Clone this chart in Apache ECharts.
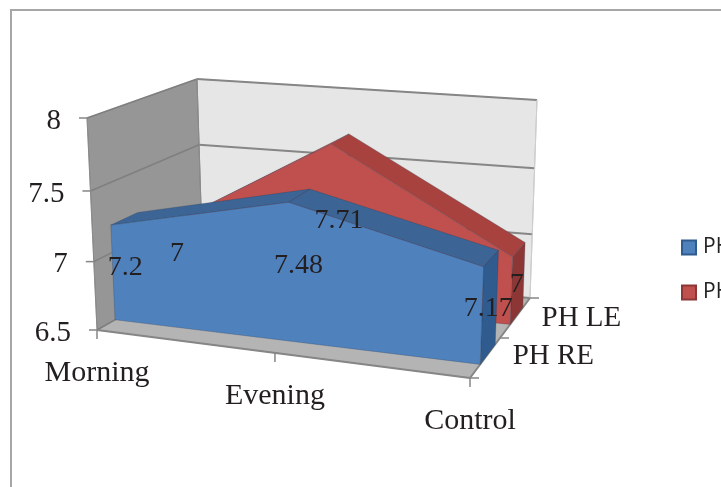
<!DOCTYPE html>
<html lang="en">
<head>
<meta charset="UTF-8">
<title>PH chart</title>
<style>
  html, body { margin: 0; padding: 0; background: #fff; overflow: hidden; }
  #chart { width: 721px; height: 487px; }
</style>
</head>
<body>
<div id="chart"></div>
<script src="https://cdn.jsdelivr.net/npm/echarts@6/dist/echarts.min.js"></script>
<script>
// data
var categories = ['Morning', 'Evening', 'Control'];
var seriesNames = ['PH RE', 'PH LE'];
var phRe = [7.2, 7.48, 7.17];
var phLe = [7, 7.71, 7];
var valueTicks = [6.5, 7, 7.5, 8];

var SERIF = '"Liberation Serif", serif';
var TEXT = '#231f20';

// box corners on screen: [front/back][left/right][bottom/top]
var box = {
    flb: [97, 330], flt: [87, 118],
    frb: [470, 378], frt: [478, 148],
    blb: [203, 270], blt: [197, 79],
    brb: [530, 298], brt: [537, 100]
};
// hidden grid, only used to get scale positions from the axes
var GRID = { left: 0, top: 0, width: 300, height: 300 };
var slabs = [
    { front: 0.17, back: 0.42, face: '#4f81bd', top: '#3c6596', side: '#2f5b8f', values: phRe },
    { front: 0.67, back: 0.88, face: '#c0504d', top: '#a8423f', side: '#8c3735', values: phLe }
];

function warp(t, r) { return t / (t + (1 - t) * r); }
function mix(a, b, t) { return [a[0] + (b[0] - a[0]) * t, a[1] + (b[1] - a[1]) * t]; }

// u along categories, d along depth, v along value, all 0..1
function project(u, d, v) {
    var uu = warp(u, 1.096), vv = warp(v, 1.05);
    var fb = mix(box.flb, box.frb, uu), ft = mix(box.flt, box.frt, uu);
    var bb = mix(box.blb, box.brb, uu), bt = mix(box.blt, box.brt, uu);
    return mix(mix(fb, ft, vv), mix(bb, bt, vv), d);
}
// category index + value -> 0..1 through the axes
function unit(api, idx, val) {
    var p = api.coord([categories[idx], val]);
    return { u: (p[0] - GRID.left) / GRID.width, v: 1 - (p[1] - GRID.top) / GRID.height };
}
function poly(points, fill, z) {
    return { type: 'polygon', z2: z || 0, shape: { points: points },
        style: { fill: fill, stroke: 'rgba(40,50,70,0.25)', lineWidth: 1 } };
}
function seg(a, b, color, w) {
    return { type: 'line', shape: { x1: a[0], y1: a[1], x2: b[0], y2: b[1] },
        style: { stroke: color, lineWidth: w || 1.5 } };
}
function txt(s, x, y, size, align, z) {
    return { type: 'text', z2: z || 0, style: { text: s, x: x, y: y, fill: TEXT,
        font: size + 'px ' + SERIF, textAlign: align, textVerticalAlign: 'middle' } };
}

function renderFrame(params, api) {
    var line = '#868686', out = [];
    var vMin = valueTicks[0];
    var lo = unit(api, 0, vMin).v, i;
    out.push(poly([project(0, 1, 0), project(1, 1, 0), project(1, 1, 1), project(0, 1, 1)], '#e6e6e6'));
    out.push(poly([project(0, 0, 0), project(0, 1, 0), project(0, 1, 1), project(0, 0, 1)], '#969696'));
    out.push(poly([project(0, 0, 0), project(1, 0, 0), project(1, 1, 0), project(0, 1, 0)], '#b4b4b4'));

    valueTicks.forEach(function (t) {
        var v = unit(api, 0, t).v;
        var a = project(0, 0, v), b = project(0, 1, v), c = project(1, 1, v);
        out.push(seg(b, c, line, 2));
        out.push(seg(a, b, '#7f7f7f', 1.5));
        out.push(seg([a[0] - 8, a[1]], a, line, 1.5));
        out.push(txt(String(t), a[0] - 26, a[1] + 3, 29, 'right'));
    });
    out.push(seg(project(0, 0, 0), project(0, 0, 1), '#8a8a8a', 1));
    out.push(seg(project(0, 1, 0), project(0, 1, 1), '#8a8a8a', 1));
    out.push(seg(project(1, 1, 0), project(1, 1, 1), '#cfcfcf', 1));
    out.push(seg(project(0, 0, 0), project(1, 0, 0), line, 2));
    out.push(seg(project(1, 0, 0), project(1, 1, 0), line, 2));

    for (i = 0; i < categories.length; i++) {
        var u = unit(api, i, vMin).u;
        var p = project(u, 0, lo);
        out.push(seg(p, [p[0], p[1] + 9], line, 1.5));
        out.push(txt(categories[i], p[0], p[1] + 43, 30, 'center'));
    }
    // depth ticks and series names
    [0, 0.5, 1].forEach(function (d) {
        var p = project(1, d, 0);
        out.push(seg(p, [p[0] + 9, p[1]], line, 1.5));
    });
    seriesNames.forEach(function (n, k) {
        var p = project(1, (slabs[k].front + slabs[k].back) / 2, 0);
        out.push(txt(n, p[0] + 25, p[1] + 2, 29, 'left'));
    });
    return { type: 'group', children: out };
}

function renderSlab(k) {
    return function (params, api) {
        var s = slabs[k], out = [], i;
        var f = [], b = [], n = s.values.length;
        for (i = 0; i < n; i++) {
            var q = unit(api, i, s.values[i]);
            f.push(project(q.u, s.front, q.v));
            b.push(project(q.u, s.back, q.v));
        }
        for (i = 0; i < n - 1; i++) {
            out.push(poly([f[i], f[i + 1], b[i + 1], b[i]], s.top));
        }
        var base = unit(api, n - 1, valueTicks[0]);
        var fr = project(base.u, s.front, 0), br = project(base.u, s.back, 0);
        out.push(poly([fr, br, b[n - 1], f[n - 1]], s.side));
        var front = f.slice();
        front.push(fr, project(0, s.front, 0));
        out.push(poly(front, s.face));
        return { type: 'group', children: out };
    };
}

// labels go in their own pass so the blue slab cannot cover the red ones
function renderLabels(params, api) {
    var out = [];
    slabs.forEach(function (s) {
        var d = (s.front + s.back) / 2;
        s.values.forEach(function (val, i) {
            var q = unit(api, i, val);
            var p = mix(project(q.u, d, 0), project(q.u, d, q.v), 0.5);
            out.push(txt(String(val), p[0] - 1, p[1] + 2, 28, 'center'));
        });
    });
    return { type: 'group', children: out };
}

function customSeries(name, color, border, fn, z) {
    return { type: 'custom', name: name, z: z, silent: true, clip: false,
        coordinateSystem: 'cartesian2d',
        itemStyle: { color: color, borderColor: border, borderWidth: 1.5 },
        renderItem: fn, data: [[0, 0]], encode: { x: 0, y: 1 } };
}

var myChart = echarts.init(document.getElementById('chart'));
myChart.setOption({
    animation: false,
    backgroundColor: '#fff',
    graphic: [{ type: 'rect', shape: { x: 11, y: 10, width: 800, height: 600 }, silent: true,
        style: { fill: 'none', stroke: '#a6a6a6', lineWidth: 2 } }],
    grid: GRID,
    xAxis: { type: 'category', data: categories, boundaryGap: false, show: false },
    yAxis: { type: 'value', min: 6.5, max: 8, interval: 0.5, show: false },
    legend: {
        data: [seriesNames[0], seriesNames[1]],
        orient: 'vertical', left: 681, top: 237, icon: 'rect',
        itemWidth: 14, itemHeight: 14, itemGap: 24, padding: 0,
        selectedMode: false,
        textStyle: { fontFamily: '"Open Sans", sans-serif', fontSize: 21, color: '#222', padding: [0, 0, 0, 2] }
    },
    series: [
        customSeries('frame', '#999', '#999', renderFrame, 1),
        customSeries(seriesNames[1], '#c0504d', '#8c3735', renderSlab(1), 2),
        customSeries(seriesNames[0], '#4f81bd', '#2f5b8f', renderSlab(0), 3),
        customSeries('labels', '#000', '#000', renderLabels, 4)
    ]
});
</script>
</body>
</html>
